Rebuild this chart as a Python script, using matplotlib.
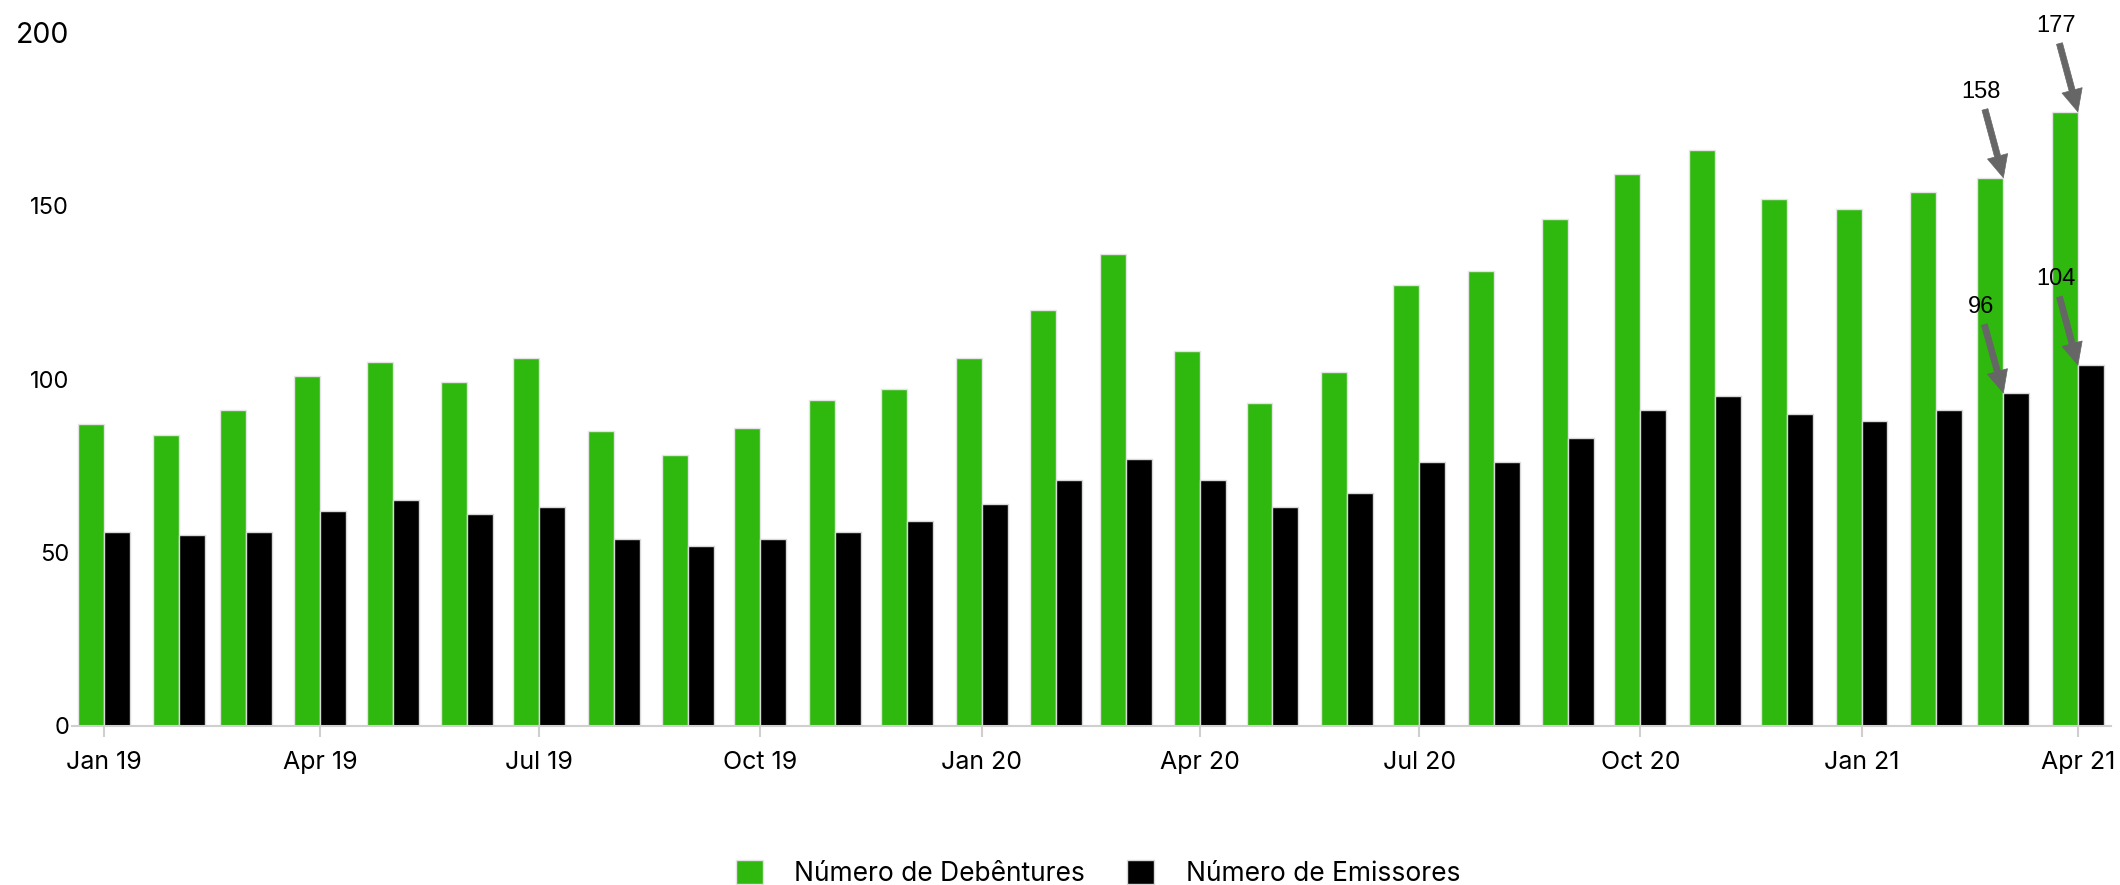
import datetime as dt

import matplotlib
matplotlib.use('Agg')
import matplotlib.pyplot as plt
import matplotlib.dates as mdates

months = ['2019-01', '2019-02', '2019-03', '2019-04', '2019-05', '2019-06', '2019-07',
          '2019-08', '2019-09', '2019-10', '2019-11', '2019-12', '2020-01', '2020-02',
          '2020-03', '2020-04', '2020-05', '2020-06', '2020-07', '2020-08', '2020-09',
          '2020-10', '2020-11', '2020-12', '2021-01', '2021-02', '2021-03', '2021-04']
debentures = [87, 84, 91, 101, 105, 99, 106, 85, 78, 86, 94, 97, 106, 120,
              136, 108, 93, 102, 127, 131, 146, 159, 166, 152, 149, 154, 158, 177]
emissores = [56, 55, 56, 62, 65, 61, 63, 54, 52, 54, 56, 59, 64, 71,
             77, 71, 63, 67, 76, 76, 83, 91, 95, 90, 88, 91, 96, 104]
tick_labels = ['Jan 19', 'Apr 19', 'Jul 19', 'Oct 19', 'Jan 20', 'Apr 20', 'Jul 20',
               'Oct 20', 'Jan 21', 'Apr 21']
yticks = [0, 50, 100, 150, 200]

GREEN = '#2fb90f'
tick_font = ['Inter', 'DejaVu Sans']

dates = [dt.datetime.strptime(m, '%Y-%m') for m in months]
x = mdates.date2num(dates)
bar_w = 10.8  # days

fig = plt.figure(figsize=(21.2, 8.85), dpi=100)
ax = fig.add_axes([0.034, 0.1797, 0.9619, 0.7841])

ax.bar(x, debentures, width=-bar_w, align='edge', color=GREEN,
       edgecolor='#e4e4e4', linewidth=1, label='Número de Debêntures')
ax.bar(x, emissores, width=bar_w, align='edge', color='black',
       edgecolor='#d8d8d8', linewidth=1, label='Número de Emissores')

ax.set_xlim(x[0] - 13.3, x[-1] + 13.9)
ax.set_ylim(0, 200)

for s in ['top', 'right', 'left']:
    ax.spines[s].set_visible(False)
ax.spines['bottom'].set_color('#cfcfcf')
ax.spines['bottom'].set_linewidth(1.5)

ax.set_xticks(x[::3])
ax.set_xticklabels(tick_labels, fontsize=18, family=tick_font)
ax.tick_params(axis='x', length=8, width=1.5, color='#cfcfcf', pad=10)
ax.set_yticks(yticks)
ax.set_yticklabels([str(v) for v in yticks], fontsize=17, family=tick_font)
ax.tick_params(axis='y', length=0, pad=2)
ax.get_yticklabels()[-1].set_fontsize(20.5)

# callouts on the last two months
arrow = dict(arrowstyle='simple,head_length=0.8,head_width=0.75,tail_width=0.22',
             mutation_scale=20, facecolor='#666666', edgecolor='#666666', lw=0.5,
             relpos=(0.55, 0.0), shrinkA=3, shrinkB=0)
for i in [-2, -1]:
    for vals in (debentures, emissores):
        ax.annotate(str(vals[i]), xy=(x[i], vals[i]), xytext=(-16, 62),
                    textcoords='offset points', ha='center', va='center',
                    fontsize=17, family=['Liberation Sans', 'DejaVu Sans'],
                    arrowprops=arrow, annotation_clip=False)

fig.legend(loc='center', bbox_to_anchor=(0.518, 0.013), ncol=2, frameon=False,
           prop={'family': tick_font, 'size': 19}, handlelength=1, handleheight=1,
           handletextpad=1.2, columnspacing=1.6)

fig.savefig('out.png', dpi=100)
